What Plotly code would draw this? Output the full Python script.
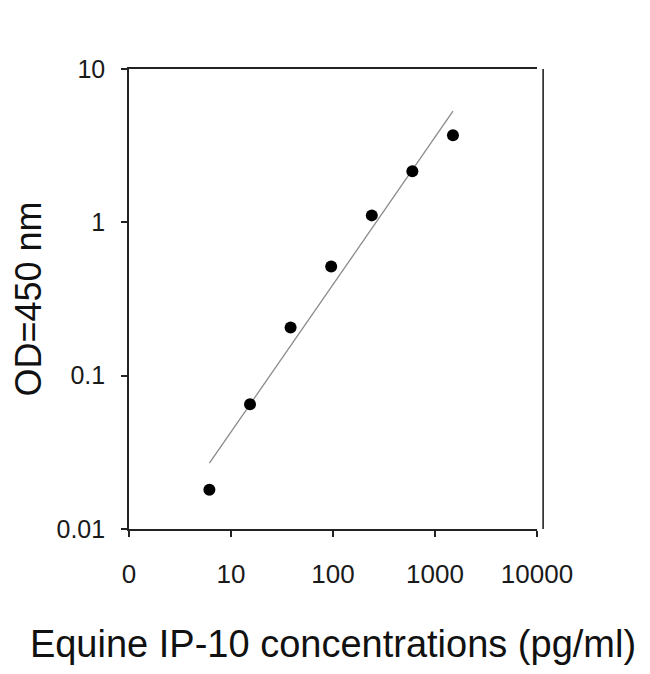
import numpy as np
import plotly.graph_objects as go

# Data
concentration = [6.14, 15.36, 38.4, 96, 240, 600, 1500]   # pg/ml
od450 = [0.018, 0.065, 0.206, 0.515, 1.11, 2.15, 3.7]

x_tickvals = [1, 10, 100, 1000, 10000]
x_ticktext = ["0", "10", "100", "1000", "10000"]
y_tickvals = [0.01, 0.1, 1, 10]
y_ticktext = ["0.01", "0.1", "1", "10"]

# Power-law (log-log linear) least-squares fit
lx = np.log10(concentration)
ly = np.log10(od450)
slope, intercept = np.polyfit(lx, ly, 1)
fit_x = np.array([min(concentration), max(concentration)])
fit_y = 10 ** (intercept + slope * np.log10(fit_x))

FONT = "Liberation Sans, Arial, sans-serif"

fig = go.Figure()
fig.add_trace(go.Scatter(
    x=fit_x, y=fit_y, mode="lines",
    line=dict(color="#8a8a8a", width=1.3),
    hoverinfo="skip", showlegend=False,
))
fig.add_trace(go.Scatter(
    x=concentration, y=od450, mode="markers",
    marker=dict(color="black", size=12),
    showlegend=False,
))

fig.update_layout(
    width=650, height=674,
    margin=dict(l=121, r=121, t=61, b=153),
    paper_bgcolor="white", plot_bgcolor="white",
    font=dict(family=FONT, color="#111111"),
    shapes=[dict(type="line", xref="paper", yref="paper",
                 x0=1.015, x1=1.015, y0=0, y1=1,
                 line=dict(color="#222222", width=1.6))],
)
fig.update_xaxes(
    type="log", range=[0, 4],
    tickvals=x_tickvals, ticktext=x_ticktext,
    ticks="outside", ticklen=6, tickwidth=1.5, tickcolor="#222222",
    showline=True, linecolor="#222222", linewidth=1.6, mirror=True,
    showgrid=False, zeroline=False,
    tickfont=dict(size=26, family=FONT, color="#1a1a1a"),
    ticklabelstandoff=15,
    title=dict(text="Equine IP-10 concentrations (pg/ml)",
               font=dict(size=38, family=FONT, color="#111111"),
               standoff=42),
)
fig.update_yaxes(
    type="log", range=[-2, 1],
    tickvals=y_tickvals, ticktext=y_ticktext,
    ticks="outside", ticklen=6, tickwidth=1.5, tickcolor="#222222",
    showline=True, linecolor="#222222", linewidth=1.6, mirror=False,
    showgrid=False, zeroline=False,
    tickfont=dict(size=25, family=FONT, color="#1a1a1a"),
    ticklabelstandoff=11,
    title=dict(text="OD=450 nm",
               font=dict(size=36, family=FONT, color="#111111"),
               standoff=7),
)

fig.write_html("out.html")
